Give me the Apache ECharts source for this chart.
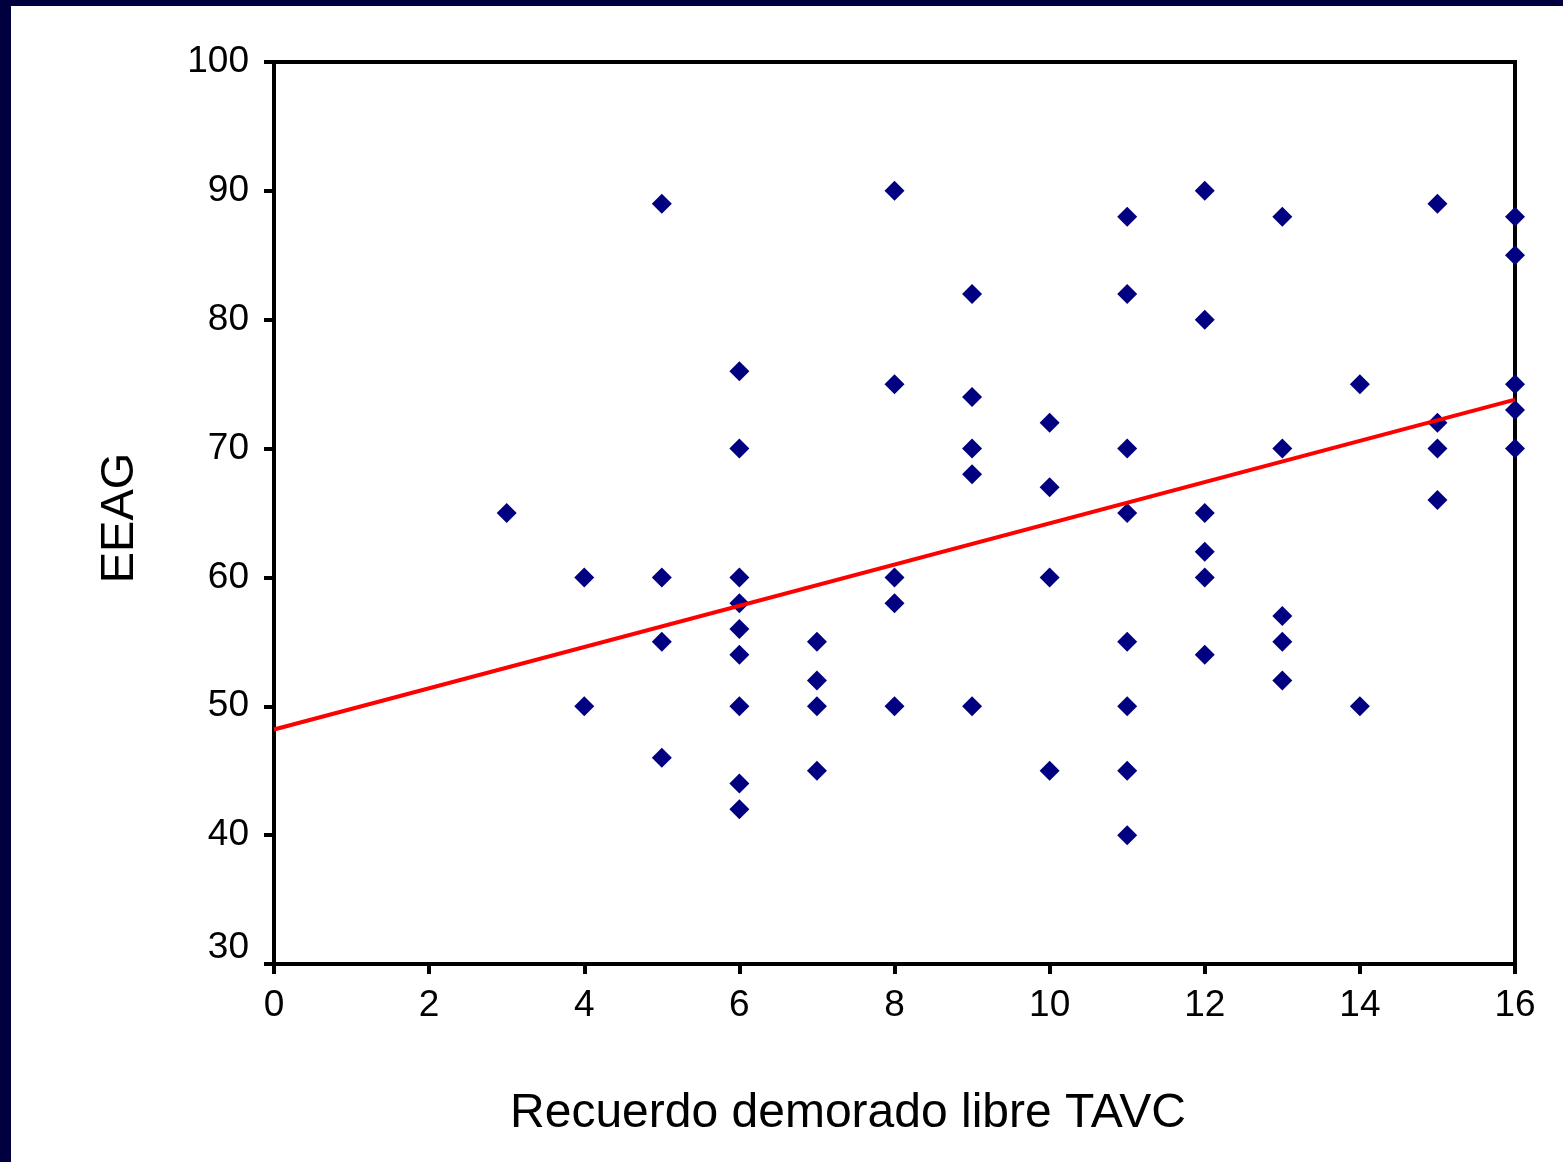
<!DOCTYPE html>
<html>
<head>
<meta charset="utf-8">
<script src="https://cdn.jsdelivr.net/npm/echarts@6/dist/echarts.min.js"></script>
<style>
  html, body { margin: 0; padding: 0; background: #00003f; }
  #chart { position: absolute; left: 11px; top: 6px; width: 1552px; height: 1156px; background: #fff; }
</style>
</head>
<body>
<div id="chart"></div>
<script>
// puntos (x = recuerdo demorado, y = EEAG)
const xVals = [
  3,
  4, 4,
  5, 5, 5, 5,
  6, 6, 6, 6, 6, 6, 6, 6, 6,
  7, 7, 7, 7,
  8, 8, 8, 8, 8,
  9, 9, 9, 9, 9,
  10, 10, 10, 10,
  11, 11, 11, 11, 11, 11, 11, 11,
  12, 12, 12, 12, 12, 12,
  13, 13, 13, 13, 13,
  14, 14,
  15, 15, 15, 15,
  16, 16, 16, 16, 16
];
const yVals = [
  65,
  60, 50,
  89, 60, 55, 46,
  76, 70, 60, 58, 56, 54, 50, 44, 42,
  55, 52, 50, 45,
  90, 75, 60, 58, 50,
  82, 74, 70, 68, 50,
  72, 67, 60, 45,
  88, 82, 70, 65, 55, 50, 45, 40,
  90, 80, 65, 62, 60, 54,
  88, 70, 57, 55, 52,
  75, 50,
  89, 72, 70, 66,
  88, 85, 75, 73, 70
];
// recta de regresion (extremos)
const trendX = [0, 16];
const trendY = [48.2, 73.8];

const xTitle = 'Recuerdo demorado libre TAVC';
const yTitle = 'EEAG';
const font = '"Liberation Sans", Arial, sans-serif';

const chart = echarts.init(document.getElementById('chart'));

const points = xVals.map((x, i) => [x, yVals[i]]);
const trend = trendX.map((x, i) => [x, trendY[i]]);

chart.setOption({
  animation: false,
  backgroundColor: '#fff',
  grid: {
    left: 263,
    top: 56,
    right: 48,
    bottom: 198,
    show: true,
    borderColor: '#000',
    borderWidth: 4,
  },
  xAxis: {
    type: 'value',
    min: 0,
    max: 16,
    interval: 2,
    splitLine: { show: false },
    axisLine: { lineStyle: { color: '#000', width: 4 } },
    axisTick: { length: 10, lineStyle: { color: '#000', width: 4 } },
    axisLabel: { color: '#000', fontSize: 37, fontFamily: font, margin: 23 },
  },
  yAxis: {
    type: 'value',
    min: 30,
    max: 100,
    interval: 10,
    splitLine: { show: false },
    axisLine: { lineStyle: { color: '#000', width: 4 } },
    axisTick: { length: 10, lineStyle: { color: '#000', width: 4 } },
    axisLabel: {
      color: '#000',
      fontSize: 37,
      fontFamily: font,
      margin: 25,
      // el 30 queda algo por encima del eje x
      formatter: (v) => (v === 30 ? '{low|30}' : String(v)),
      rich: {
        low: { fontSize: 37, fontFamily: font, color: '#000', padding: [0, 0, 32, 0] },
      },
    },
  },
  graphic: [
    {
      type: 'text',
      x: 109,
      y: 512,
      rotation: Math.PI / 2,
      style: {
        text: yTitle,
        fill: '#000',
        font: '47px ' + font,
        align: 'center',
        verticalAlign: 'middle',
      },
    },
    {
      type: 'text',
      x: 837,
      y: 1108,
      style: {
        text: xTitle,
        fill: '#000',
        font: '48px ' + font,
        align: 'center',
        verticalAlign: 'middle',
      },
    },
  ],
  series: [
    {
      type: 'scatter',
      data: points,
      symbol: 'diamond',
      symbolSize: 20,
      itemStyle: { color: '#000080', opacity: 1 },
      z: 2,
    },
    {
      type: 'line',
      data: trend,
      showSymbol: false,
      symbol: 'none',
      lineStyle: { color: '#ff0000', width: 4 },
      z: 3,
    },
  ],
});
</script>
</body>
</html>
